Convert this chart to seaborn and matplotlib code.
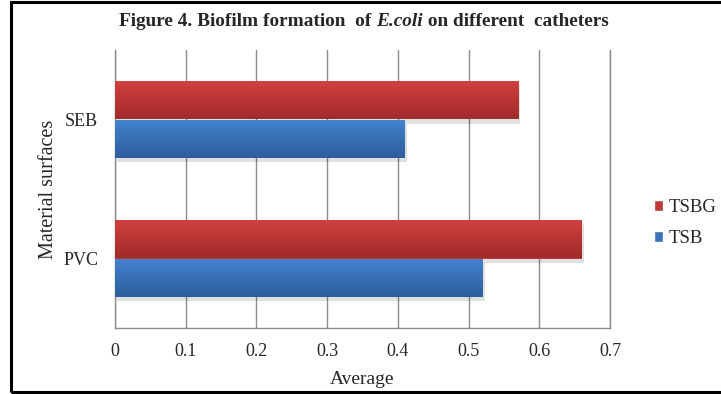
import numpy as np
import pandas as pd
import matplotlib
matplotlib.use('Agg')
import matplotlib.pyplot as plt
import seaborn as sns
from matplotlib.patches import Rectangle
from matplotlib.colors import LinearSegmentedColormap

# data
surfaces = ['SEB', 'PVC']
media = ['TSBG', 'TSB']
tsbg_vals = [0.57, 0.66]
tsb_vals = [0.41, 0.52]

df = pd.DataFrame({
    'surface': surfaces * 2,
    'medium': ['TSBG'] * len(surfaces) + ['TSB'] * len(surfaces),
    'avg': tsbg_vals + tsb_vals,
})

sns.set_style('white')
plt.rcParams['font.family'] = ['Liberation Serif', 'DejaVu Serif']

colors = {'TSBG': '#BE3836', 'TSB': '#3A71B9'}
grads = {
    'TSBG': ('#D1413F', '#A02B2A'),
    'TSB': ('#4383CF', '#2D5E9C'),
}

fig = plt.figure(figsize=(7.21, 3.94), dpi=100)
ax = fig.add_axes([115 / 721, 1 - 328 / 394, 495 / 721, 278 / 394])

sns.barplot(data=df, x='avg', y='surface', hue='medium', order=surfaces,
            hue_order=media, palette=colors, orient='h', width=0.55,
            saturation=1, ax=ax, legend=False, zorder=3, linewidth=0)

# shading like the office-style bars
for patch, med in zip(ax.patches, [m for m in media for _ in surfaces]):
    x0, y0 = patch.get_x(), patch.get_y()
    w, h = patch.get_width(), patch.get_height()
    cmap = LinearSegmentedColormap.from_list(med, grads[med])
    grad = np.linspace(0, 1, 64).reshape(-1, 1)
    # shadow
    ax.add_patch(Rectangle((x0 + 0.003, y0 + 0.03), w, h, facecolor='#000000',
                           alpha=0.12, edgecolor='none', zorder=2))
    im = ax.imshow(grad, cmap=cmap, aspect='auto', extent=(x0, x0 + w, y0 + h, y0),
                   zorder=4, origin='upper')
    im.set_clip_path(patch)

ax.set_xlim(0, 0.7)
ax.set_ylim(1.5, -0.5)
ax.set_xticks(np.arange(0, 0.71, 0.1))
ax.set_xticklabels(['0', '0.1', '0.2', '0.3', '0.4', '0.5', '0.6', '0.7'])
ax.set_yticks([-0.5, 0.5, 1.5], minor=True)
ax.tick_params(axis='y', which='major', length=0, labelsize=13, pad=12)
ax.tick_params(axis='y', which='minor', length=6, color='#8c8c8c', width=1)
ax.tick_params(axis='x', length=5, color='#8c8c8c', width=1, labelsize=13, pad=6)
ax.grid(axis='x', color='#8c8c8c', linewidth=1, zorder=0)
ax.set_axisbelow(True)
ax.spines['top'].set_visible(False)
for side in ['left', 'bottom', 'right']:
    ax.spines[side].set_color('#8c8c8c')
    ax.spines[side].set_linewidth(1)
ax.set_xlabel('Average', fontsize=14, labelpad=8)
ax.set_ylabel('Material surfaces', fontsize=14.5, labelpad=4)

# legend
handles = [Rectangle((0, 0), 1, 1, facecolor=colors[m]) for m in media]
fig.legend(handles, media, loc='upper left', bbox_to_anchor=(637 / 721, 1 - 182 / 394),
           frameon=False, fontsize=13.5, handlelength=0.5, handleheight=0.5,
           handletextpad=0.3, labelspacing=0.75)

# title with italic species name
renderer = fig.canvas.get_renderer()
parts = [('Figure 4. Biofilm formation  of ', 'normal'),
         ('E.coli', 'italic'),
         (' on different  catheters', 'normal')]
texts = []
for s, st in parts:
    texts.append(fig.text(0, 1 - 22 / 394, s, fontsize=13.9, fontweight='bold',
                          fontstyle=st, va='center', ha='left'))
widths = [t.get_window_extent(renderer).width for t in texts]
x = 364 - sum(widths) / 2
for t, w in zip(texts, widths):
    t.set_x(x / 721)
    x += w

# frame around the figure
fig.add_artist(Rectangle((11 / 721, 2 / 394), 1.0, 390 / 394, transform=fig.transFigure,
                         fill=False, edgecolor='black', linewidth=2.2))

fig.savefig('out.png', dpi=100)
